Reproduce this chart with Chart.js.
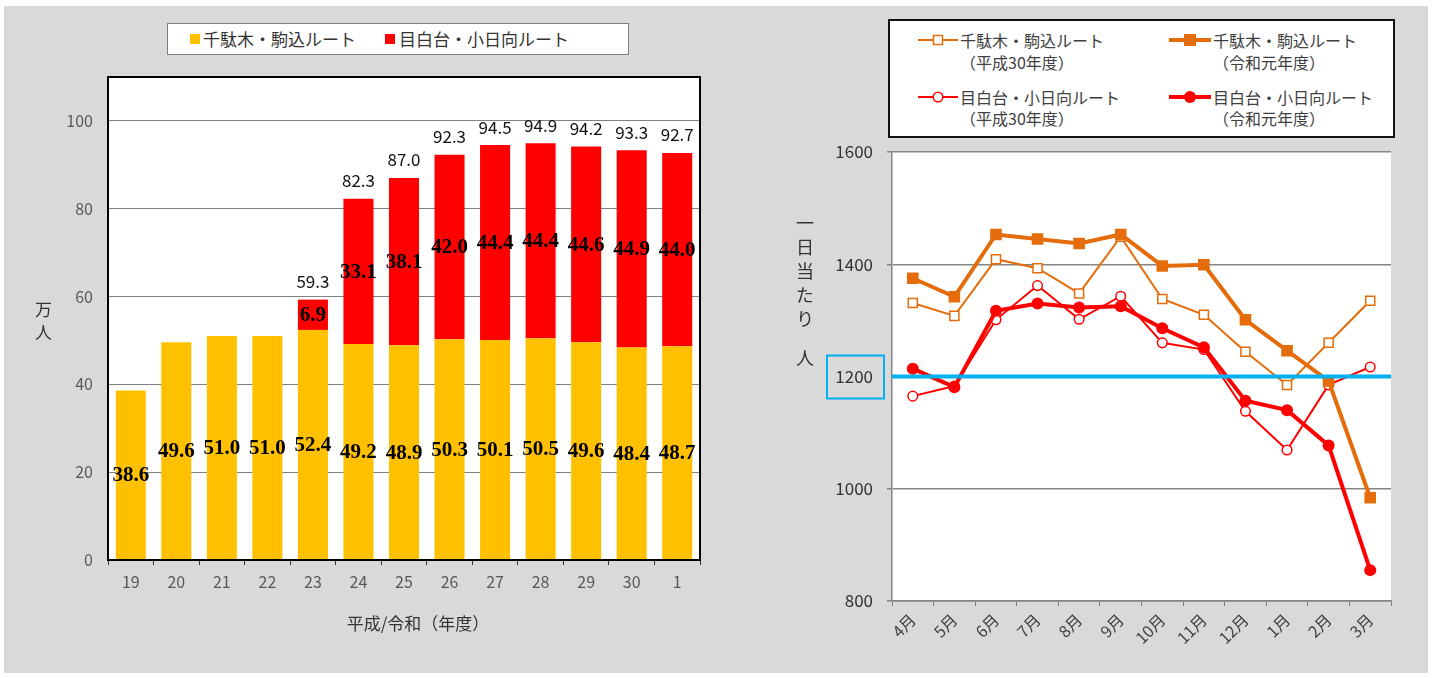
<!DOCTYPE html>
<html>
<head>
<meta charset="utf-8">
<script src="https://cdn.jsdelivr.net/npm/chart.js@4.4.1/dist/chart.umd.min.js"></script>
<style>
html,body{margin:0;padding:0;background:#fff;width:1433px;height:678px;overflow:hidden;font-family:"Noto Sans CJK JP",sans-serif;}
#bg{position:absolute;left:4px;top:6px;width:1424px;height:667px;background:#d9d9d9;}
.abs{position:absolute;}
#c1wrap{position:absolute;left:0;top:0;width:720px;height:678px;}
#c2wrap{position:absolute;left:720px;top:0;width:713px;height:678px;}
#legend1{position:absolute;left:167px;top:23px;width:460px;height:30px;border:1.5px solid #7f7f7f;background:#fff;}
#legend2{position:absolute;left:888px;top:19px;width:503px;height:115px;border:2px solid #111;background:#fff;}
.lt{position:absolute;font-size:17px;line-height:24px;color:#333;white-space:nowrap;}
.rt{position:absolute;font-size:16px;line-height:22px;color:#404040;white-space:nowrap;}
.sq{position:absolute;width:10px;height:10px;}
.vt{position:absolute;writing-mode:vertical-rl;color:#333;white-space:nowrap;}
</style>
</head>
<body>
<div id="bg"></div>
<div id="c1wrap"><canvas id="c1" width="720" height="678"></canvas></div>
<div id="c2wrap"><canvas id="c2" width="713" height="678"></canvas></div>

<div id="legend1">
  <div class="sq" style="left:22px;top:10px;background:#FFC000;"></div>
  <div class="lt" style="left:35px;top:3px;">千駄木・駒込ルート</div>
  <div class="sq" style="left:217px;top:10px;background:#FF0000;"></div>
  <div class="lt" style="left:231px;top:3px;">目白台・小日向ルート</div>
</div>

<div id="legend2">
  <svg class="abs" style="left:28px;top:11px" width="40" height="16"><line x1="0" y1="8" x2="40" y2="8" stroke="#E46C0A" stroke-width="2"/><rect x="15.5" y="3.5" width="9" height="9" fill="#fff" stroke="#E46C0A" stroke-width="1.5"/></svg>
  <div class="rt" style="left:70px;top:8px;">千駄木・駒込ルート</div>
  <div class="rt" style="left:70px;top:30px;">（平成30年度）</div>

  <svg class="abs" style="left:279px;top:11px" width="42" height="16"><line x1="0" y1="8" x2="42" y2="8" stroke="#E46C0A" stroke-width="4"/><rect x="15" y="2" width="12" height="12" fill="#E46C0A"/></svg>
  <div class="rt" style="left:323px;top:8px;">千駄木・駒込ルート</div>
  <div class="rt" style="left:323px;top:30px;">（令和元年度）</div>

  <svg class="abs" style="left:28px;top:68px" width="40" height="16"><line x1="0" y1="8" x2="40" y2="8" stroke="#FF0000" stroke-width="2"/><circle cx="20" cy="8" r="4.8" fill="#fff" stroke="#FF0000" stroke-width="1.5"/></svg>
  <div class="rt" style="left:70px;top:65px;">目白台・小日向ルート</div>
  <div class="rt" style="left:70px;top:86px;">（平成30年度）</div>

  <svg class="abs" style="left:279px;top:68px" width="42" height="16"><line x1="0" y1="8" x2="42" y2="8" stroke="#FF0000" stroke-width="4"/><circle cx="21" cy="8" r="6" fill="#FF0000"/></svg>
  <div class="rt" style="left:323px;top:65px;">目白台・小日向ルート</div>
  <div class="rt" style="left:323px;top:86px;">（令和元年度）</div>
</div>

<div class="vt" style="left:31px;top:301px;font-size:17px;letter-spacing:6px;">万人</div>
<div class="abs" style="left:318px;top:611px;width:200px;text-align:center;font-size:17px;line-height:24px;color:#333;">平成/令和（年度）</div>
<div class="vt" style="left:792px;top:214px;font-size:18px;letter-spacing:6px;">一日当たり</div>
<div class="vt" style="left:792px;top:349px;font-size:18px;">人</div>

<script>
// ---------- Left chart data ----------
const fiscalYears = ['19','20','21','22','23','24','25','26','27','28','29','30','1'];
const sendagiKomagome = [38.6, 49.6, 51.0, 51.0, 52.4, 49.2, 48.9, 50.3, 50.1, 50.5, 49.6, 48.4, 48.7];
const mejirodaiKohinata = [null, null, null, null, 6.9, 33.1, 38.1, 42.0, 44.4, 44.4, 44.6, 44.9, 44.0];
const barYTicks = [0, 20, 40, 60, 80, 100];

// ---------- Right chart data ----------
const months = ['4月','5月','6月','7月','8月','9月','10月','11月','12月','1月','2月','3月'];
const sendagiH30 = [1331, 1308, 1409, 1393, 1348, 1449, 1338, 1310, 1244, 1185, 1260, 1335];
const sendagiR1  = [1375, 1342, 1453, 1445, 1437, 1453, 1397, 1399, 1301, 1246, 1192, 984];
const mejiroH30  = [1165, 1183, 1301, 1362, 1302, 1343, 1260, 1248, 1138, 1069, 1185, 1217];
const mejiroR1   = [1214, 1181, 1317, 1330, 1323, 1325, 1286, 1252, 1157, 1140, 1077, 855];
const lineYTicks = [800, 1000, 1200, 1400, 1600];
const targetValue = 1200;

Chart.defaults.font.family = '"Noto Sans CJK JP", sans-serif';
Chart.defaults.animation = false;

const plotBg = {
  id: 'plotBg',
  beforeDraw(chart) {
    const {ctx, chartArea: a} = chart;
    ctx.save();
    ctx.fillStyle = '#fff';
    ctx.fillRect(a.left, a.top, a.right - a.left, a.bottom - a.top);
    ctx.restore();
  }
};

const frame = {
  id: 'frame',
  afterDraw(chart) {
    const {ctx, chartArea: a} = chart;
    ctx.save();
    ctx.strokeStyle = '#000';
    ctx.lineWidth = 2;
    ctx.strokeRect(a.left, a.top, a.right - a.left, a.bottom - a.top);
    ctx.restore();
  }
};

const barLabels = {
  id: 'barLabels',
  afterDatasetsDraw(chart) {
    const ctx = chart.ctx;
    ctx.save();
    ctx.textAlign = 'center';
    ctx.textBaseline = 'middle';
    ctx.fillStyle = '#000';
    ctx.font = 'bold 21px "Liberation Serif", serif';
    chart.data.datasets.forEach((ds, i) => {
      chart.getDatasetMeta(i).data.forEach((bar, j) => {
        const v = ds.data[j];
        if (v == null) return;
        ctx.fillText(v.toFixed(1), bar.x, (bar.y + bar.base) / 2 + 1);
      });
    });
    ctx.font = '17px "Noto Sans CJK JP", sans-serif';
    ctx.fillStyle = '#111';
    chart.getDatasetMeta(1).data.forEach((bar, j) => {
      const r = mejirodaiKohinata[j];
      if (r == null) return;
      const total = sendagiKomagome[j] + r;
      ctx.fillText(total.toFixed(1), bar.x, bar.y - 18);
    });
    ctx.restore();
  }
};

new Chart(document.getElementById('c1'), {
  type: 'bar',
  data: {
    labels: fiscalYears,
    datasets: [
      {label: '千駄木・駒込ルート', data: sendagiKomagome, backgroundColor: '#FFC000', barPercentage: 0.66, categoryPercentage: 1.0},
      {label: '目白台・小日向ルート', data: mejirodaiKohinata, backgroundColor: '#FF0000', barPercentage: 0.66, categoryPercentage: 1.0}
    ]
  },
  options: {
    responsive: false,
    layout: {padding: {top: 77, right: 20, bottom: 40, left: 0}},
    plugins: {legend: {display: false}, tooltip: {enabled: false}},
    scales: {
      x: {
        stacked: true,
        grid: {drawOnChartArea: false, drawTicks: true, tickLength: 5, color: '#333', offset: true},
        border: {display: true, color: '#000'},
        ticks: {color: '#595959', font: {size: 16}, padding: 7, maxRotation: 0, autoSkip: false},
        afterFit(s) { s.height = 78; }
      },
      y: {
        stacked: true,
        min: 0, max: 110,
        afterBuildTicks(s) { s.ticks = barYTicks.map(v => ({value: v})); },
        grid: {color: '#808080', lineWidth: 1, drawTicks: false},
        border: {display: true, color: '#000'},
        ticks: {color: '#595959', font: {size: 16}, padding: 15, callback: v => String(v)},
        afterFit(s) { s.width = 108; }
      }
    }
  },
  plugins: [plotBg, barLabels, frame]
});

const targetLine = {
  id: 'targetLine',
  afterDatasetsDraw(chart) {
    const {ctx, chartArea: a, scales} = chart;
    const y = scales.y.getPixelForValue(targetValue);
    ctx.save();
    ctx.strokeStyle = '#00B0F0';
    ctx.lineWidth = 4;
    ctx.beginPath();
    ctx.moveTo(a.left, y);
    ctx.lineTo(a.right, y);
    ctx.stroke();
    ctx.lineWidth = 2;
    ctx.strokeRect(a.left - 65, y - 21, 57, 43);
    ctx.restore();
  }
};

const thinOpts = {borderWidth: 2, pointBackgroundColor: '#fff', pointBorderWidth: 1.5, tension: 0};
const thickOpts = {borderWidth: 4, pointBorderWidth: 0, tension: 0};

new Chart(document.getElementById('c2'), {
  type: 'line',
  data: {
    labels: months,
    datasets: [
      Object.assign({label: '千駄木・駒込ルート（平成30年度）', data: sendagiH30, borderColor: '#E46C0A', pointBorderColor: '#E46C0A', pointStyle: 'rect', pointRadius: 6.4, order: 3}, thinOpts),
      Object.assign({label: '千駄木・駒込ルート（令和元年度）', data: sendagiR1, borderColor: '#E46C0A', pointBackgroundColor: '#E46C0A', pointStyle: 'rect', pointRadius: 8.2, order: 1}, thickOpts),
      Object.assign({label: '目白台・小日向ルート（平成30年度）', data: mejiroH30, borderColor: '#FF0000', pointBorderColor: '#FF0000', pointStyle: 'circle', pointRadius: 4.8, order: 2}, thinOpts),
      Object.assign({label: '目白台・小日向ルート（令和元年度）', data: mejiroR1, borderColor: '#FF0000', pointBackgroundColor: '#FF0000', pointStyle: 'circle', pointRadius: 6, order: 0}, thickOpts)
    ]
  },
  options: {
    responsive: false,
    layout: {padding: {top: 152, right: 42, bottom: 17, left: 0}},
    plugins: {legend: {display: false}, tooltip: {enabled: false}},
    scales: {
      x: {
        offset: true,
        grid: {drawOnChartArea: false, drawTicks: true, tickLength: 5, color: '#868686', offset: true},
        border: {display: true, color: '#868686', width: 1.5},
        ticks: {color: '#404040', font: {size: 16}, padding: 4, minRotation: 45, maxRotation: 45, autoSkip: false},
        afterFit(s) { s.height = 60; }
      },
      y: {
        min: 800, max: 1600,
        afterBuildTicks(s) { s.ticks = lineYTicks.map(v => ({value: v})); },
        grid: {
          color: c => (c.tick && c.tick.value === targetValue) ? 'rgba(0,0,0,0)' : '#868686',
          lineWidth: 1.5, drawTicks: true, tickLength: 5
        },
        border: {display: true, color: '#868686', width: 1.5},
        ticks: {color: '#333', font: {size: 17}, padding: 14, callback: v => String(v)},
        afterFit(s) { s.width = 172; }
      }
    }
  },
  plugins: [plotBg, targetLine]
});
</script>
</body>
</html>
